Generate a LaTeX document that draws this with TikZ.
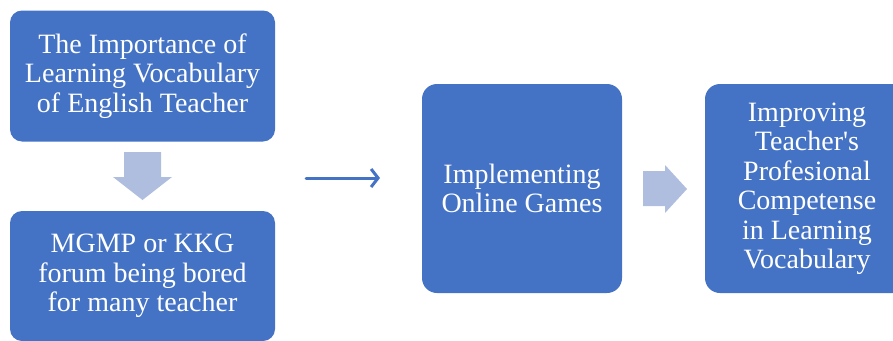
\documentclass[tikz,border=0pt]{standalone}
\usepackage{fontspec}
\setmainfont{Liberation Serif}
\usetikzlibrary{arrows.meta}
\definecolor{boxblue}{HTML}{4472C4}
\definecolor{blocktint}{HTML}{AFBDDE}

\begin{document}
\begin{tikzpicture}[x=1pt, y=-1pt,
    stagebox/.style={rectangle, fill=boxblue, rounded corners=12pt, text=white, align=center, inner sep=0pt, font=\fontsize{28}{29.5}\selectfont},
    blockarrow/.style={fill=blocktint}]
    \useasboundingbox (0,0) rectangle (893,340);
    % left column
    \node[stagebox, minimum width=265pt, minimum height=131pt] (importance) at (142.5,76) {The Importance of\\ Learning Vocabulary\\ of English Teacher};
    \node[stagebox, minimum width=265pt, minimum height=130pt] (forum) at (142.5,276) {MGMP or KKG\\ forum being bored\\ for many teacher};
    \fill[blockarrow] (124,152) -- (161,152) -- (161,177) -- (172,177) -- (142.5,200) -- (113,177) -- (124,177) -- cycle;
    % middle and right
    \node[stagebox, rounded corners=15pt, minimum width=200pt, minimum height=209pt] (games) at (522,188.5) {Implementing\\ Online Games};
    \node[stagebox, rounded corners=15pt, minimum width=204pt, minimum height=209pt] (competence) at (807,188.5) {Improving\\ Teacher\textquotesingle s\\ Profesional\\ Competense\\ in Learning\\ Vocabulary};
    \fill[blockarrow] (643,171) -- (665,171) -- (665,165) -- (687,189) -- (665,213) -- (665,206) -- (643,206) -- cycle;
    \coordinate (linkstart) at (306,178);
    \coordinate (linkend) at (380,178);
    \draw[boxblue, line width=3pt, line cap=round, -{Straight Barb[length=7pt,width=18pt]}] (linkstart) -- (linkend);
\end{tikzpicture}
\end{document}
